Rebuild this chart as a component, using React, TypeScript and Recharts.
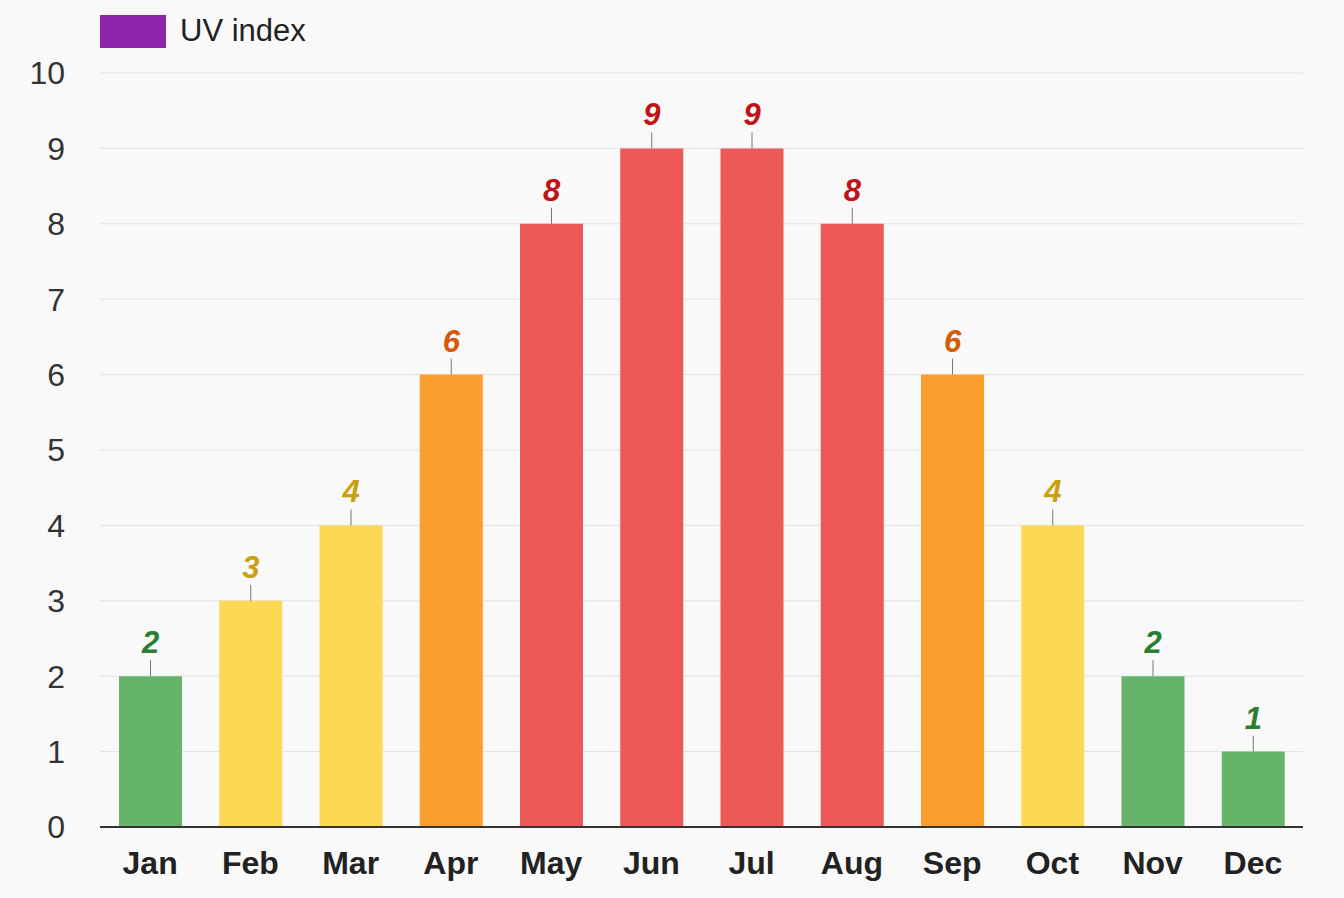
import React from "react";
import {
  BarChart,
  Bar,
  XAxis,
  YAxis,
  CartesianGrid,
  Cell,
  LabelList,
  Legend,
} from "recharts";

const months = ["Jan", "Feb", "Mar", "Apr", "May", "Jun", "Jul", "Aug", "Sep", "Oct", "Nov", "Dec"];
const uvValues = [2, 3, 4, 6, 8, 9, 9, 8, 6, 4, 2, 1];
const yTicks = [0, 1, 2, 3, 4, 5, 6, 7, 8, 9, 10];

const data = months.map((m, i) => ({ month: m, uv: uvValues[i] }));

// UV level colours: bar fill + label text
function levelColors(v: number) {
  if (v <= 2) return { fill: "#66b36a", text: "#2b7d32" };
  if (v <= 5) return { fill: "#fdd853", text: "#c9a010" };
  if (v <= 7) return { fill: "#fb9e2e", text: "#d25a0a" };
  return { fill: "#ec5957", text: "#c11218" };
}

const FONT = "'Liberation Sans', Arial, Helvetica, sans-serif";

function ValueLabel(props: any) {
  const { x, y, width, value } = props;
  const cx = x + width / 2;
  const c = levelColors(value);
  return (
    <g>
      <line x1={cx} x2={cx} y1={y} y2={y - 16} stroke="#777" strokeWidth={1} />
      <text
        x={cx}
        y={y - 23}
        textAnchor="middle"
        fill={c.text}
        fontSize={31}
        fontWeight="bold"
        fontStyle="italic"
        fontFamily={FONT}
      >
        {value}
      </text>
    </g>
  );
}

function LegendBox() {
  return (
    <div style={{ display: "flex", alignItems: "center", fontFamily: FONT }}>
      <div style={{ width: 66, height: 33, background: "#8e24aa" }} />
      <span style={{ marginLeft: 14, fontSize: 31, color: "#222" }}>UV index</span>
    </div>
  );
}

export default function App() {
  return (
    <div style={{ position: "absolute", left: 0, top: 0, width: 1344, height: 898, background: "#f9f9f9" }}>
      <BarChart
        width={1344}
        height={898}
        data={data}
        margin={{ top: 37, right: 41, left: 0, bottom: 0 }}
        barSize={63}
      >
        <CartesianGrid vertical={false} stroke="#e2e2e2" strokeWidth={1} />
        <Legend
          verticalAlign="top"
          align="left"
          content={() => <LegendBox />}
          wrapperStyle={{ position: "absolute", top: 13, left: 100, width: "auto" }}
        />
        <XAxis
          dataKey="month"
          height={71}
          axisLine={{ stroke: "#333", strokeWidth: 2 }}
          tickLine={false}
          tick={{ fontSize: 32, fontWeight: "bold", fill: "#222", fontFamily: FONT }}
          dy={16}
        />
        <YAxis
          width={100}
          domain={[0, 10]}
          ticks={yTicks}
          axisLine={false}
          tickLine={false}
          tick={{ fontSize: 32, fill: "#333", fontFamily: FONT }}
          dx={-27}
        />
        <Bar dataKey="uv" name="UV index" fill="#8e24aa" isAnimationActive={false}>
          {data.map((d) => (
            <Cell key={d.month} fill={levelColors(d.uv).fill} />
          ))}
          <LabelList dataKey="uv" content={<ValueLabel />} />
        </Bar>
      </BarChart>
    </div>
  );
}
